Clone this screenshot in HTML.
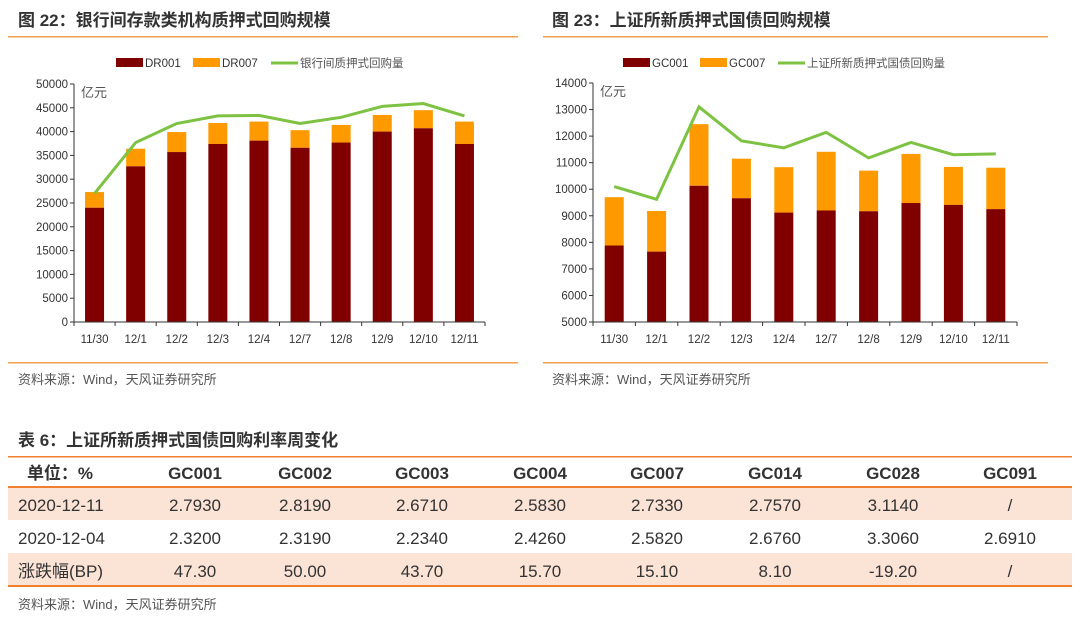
<!DOCTYPE html>
<html><head><meta charset="utf-8"><style>
body{margin:0;width:1080px;height:625px;background:#fff;overflow:hidden;font-family:"Liberation Sans","Noto Sans CJK SC",sans-serif;}
svg{position:absolute;left:0;top:0}
</style></head><body>
<svg id="s" width="1080" height="625" xmlns="http://www.w3.org/2000/svg" font-family="Liberation Sans, Noto Sans CJK SC, sans-serif">
<text x="18" y="26" font-size="17" font-weight="bold" fill="#333">图 22：银行间存款类机构质押式回购规模</text>
<text x="552" y="26" font-size="17" font-weight="bold" fill="#333">图 23：上证所新质押式国债回购规模</text>
<rect x="8" y="36" width="510" height="1.5" fill="#f0a050"/>
<rect x="543" y="36" width="505" height="1.5" fill="#f0a050"/>
<rect x="8" y="362" width="510" height="1.5" fill="#f0a050"/>
<rect x="543" y="362" width="505" height="1.5" fill="#f0a050"/>
<text x="18" y="384" font-size="13" fill="#555">资料来源：Wind，天风证券研究所</text>
<text x="552" y="384" font-size="13" fill="#555">资料来源：Wind，天风证券研究所</text>
<g id="left"></g><g id="right"></g>
<text x="18" y="446" font-size="17" font-weight="bold" fill="#333">表 6：上证所新质押式国债回购利率周变化</text>
<g id="tbl"></g>
<text x="18" y="609" font-size="13" fill="#555">资料来源：Wind，天风证券研究所</text>
</svg>
<script>
const cats=["11/30","12/1","12/2","12/3","12/4","12/7","12/8","12/9","12/10","12/11"];
const dr001=[24000,32700,35700,37400,38100,36600,37700,40000,40700,37400];
const drTotal=[27300,36400,39900,41800,42100,40300,41400,43500,44500,42100];
const drLine=[27000,37700,41700,43300,43400,41700,43000,45300,45900,43300];
const leftTicks=[0,5000,10000,15000,20000,25000,30000,35000,40000,45000,50000];
const gc001=[7880,7650,10130,9660,9120,9200,9170,9480,9410,9250];
const gcTotal=[9700,9180,12450,11150,10830,11410,10700,11330,10840,10810];
const gcLine=[10100,9620,13100,11820,11560,12140,11180,11760,11300,11330];
const rightTicks=[5000,6000,7000,8000,9000,10000,11000,12000,13000,14000];
const NS="http://www.w3.org/2000/svg";
function mk(p,t,a,txt){const e=document.createElementNS(NS,t);for(const k in a)e.setAttribute(k,a[k]);if(txt!==undefined)e.textContent=txt;p.appendChild(e);return e;}
function chart(g,o){
  const y=v=>o.y0-(v-o.min)/(o.max-o.min)*(o.y0-o.y1);
  const cw=(o.x1-o.x0)/cats.length;
  const x=i=>o.x0+cw*(i+0.5);
  o.ticks.forEach(t=>{const e=mk(g,"text",{x:o.x0-6,y:y(t)+4,"font-size":11.5,"text-anchor":"end",fill:"#333"},t);
    
    });
  cats.forEach((c,i)=>{
    const b=mk(g,"rect",{x:x(i)-9.5,y:y(o.top[i]),width:19,height:y(o.bot[i])-y(o.top[i]),fill:"#ff9900"});
    
    
    const a=mk(g,"rect",{x:x(i)-9.5,y:y(o.bot[i]),width:19,height:o.y0-y(o.bot[i]),fill:"#800000"});
    
    
    const l=mk(g,"text",{x:x(i),y:o.y0+21,"font-size":11.5,"text-anchor":"middle",fill:"#333"},c);
    
    
    mk(g,"line",{x1:o.x0+cw*i,x2:o.x0+cw*i,y1:o.y0,y2:o.y0+4,stroke:"#333"});
  });
  mk(g,"line",{x1:o.x1,x2:o.x1,y1:o.y0,y2:o.y0+4,stroke:"#333"});
  mk(g,"line",{x1:o.x0,x2:o.x0,y1:o.y1,y2:o.y0,stroke:"#333"});
  mk(g,"line",{x1:o.x0,x2:o.x1,y1:o.y0,y2:o.y0,stroke:"#333"});
  o.ticks.forEach(t=>mk(g,"line",{x1:o.x0-4,x2:o.x0,y1:y(t),y2:y(t),stroke:"#333"}));
  const p=mk(g,"polyline",{points:o.line.map((v,i)=>x(i)+","+y(v)).join(" "),fill:"none",stroke:"#7dc242","stroke-width":3});
  
  
  mk(g,"text",{x:o.x0+7,y:o.y1+13,"font-size":13,fill:"#555"},"亿元");
  const lx=o.lx;
  mk(g,"rect",{x:lx,y:58,width:27,height:9,fill:"#800000"});
  mk(g,"text",{x:lx+29,y:67,"font-size":11.5,fill:"#333"},o.n1);
  mk(g,"rect",{x:lx+77,y:58,width:27,height:9,fill:"#ff9900"});
  mk(g,"text",{x:lx+106,y:67,"font-size":11.5,fill:"#333"},o.n2);
  mk(g,"line",{x1:lx+155,x2:lx+182,y1:63,y2:63,stroke:"#7dc242","stroke-width":3});
  mk(g,"text",{x:lx+184,y:67,"font-size":11.5,fill:"#555"},o.n3);
}
chart(document.getElementById("left"),{x0:74,x1:485,y0:322,y1:84,min:0,max:50000,ticks:leftTicks,bot:dr001,top:drTotal,line:drLine,n1:"DR001",n2:"DR007",n3:"银行间质押式回购量",lx:116});
chart(document.getElementById("right"),{x0:593,x1:1017,y0:322,y1:83,min:5000,max:14000,ticks:rightTicks,bot:gc001,top:gcTotal,line:gcLine,n1:"GC001",n2:"GC007",n3:"上证所新质押式国债回购量",lx:623});
const hdr=["单位：%","GC001","GC002","GC003","GC004","GC007","GC014","GC028","GC091"];
const rows=[["2020-12-11","2.7930","2.8190","2.6710","2.5830","2.7330","2.7570","3.1140","/"],
["2020-12-04","2.3200","2.3190","2.2340","2.4260","2.5820","2.6760","3.3060","2.6910"],
["涨跌幅(BP)","47.30","50.00","43.70","15.70","15.10","8.10","-19.20","/"]];
const cx=[60,195,305,422,540,657,775,893,1010];
const t=document.getElementById("tbl");
mk(t,"rect",{x:8,y:487,width:1064,height:33,fill:"#fbe3d6"});
mk(t,"rect",{x:8,y:553,width:1064,height:33,fill:"#fbe3d6"});
mk(t,"rect",{x:8,y:456,width:1064,height:1.5,fill:"#f08030"});
mk(t,"rect",{x:8,y:486,width:1064,height:2,fill:"#f08030"});
mk(t,"rect",{x:8,y:585,width:1064,height:2,fill:"#f08030"});
hdr.forEach((h,i)=>{const e=mk(t,"text",{x:cx[i],y:479,"font-size":17,"font-weight":"bold","text-anchor":"middle",fill:"#333"},h);
  
  });
rows.forEach((r,j)=>r.forEach((v,i)=>{const e=mk(t,"text",{x:i==0?18:cx[i],y:511+j*33,"font-size":17,"text-anchor":i==0?"start":"middle",fill:"#333"},v);
  
  }));
</script>
</body></html>
